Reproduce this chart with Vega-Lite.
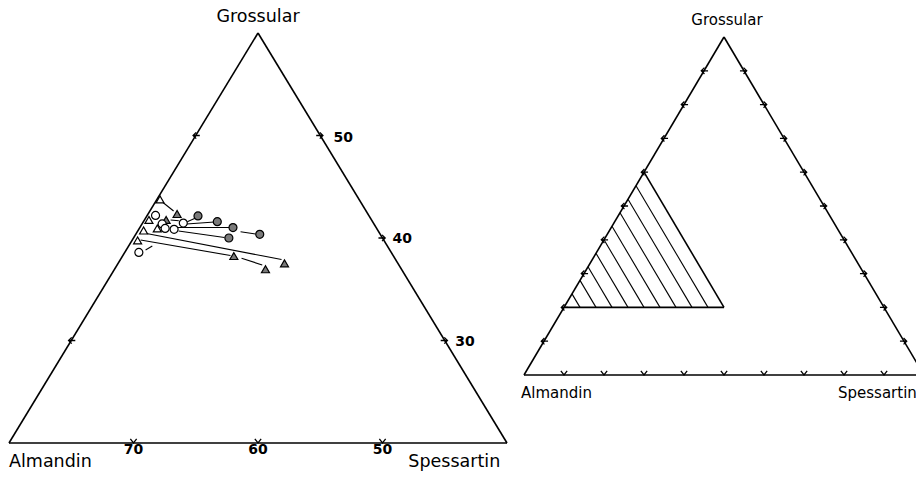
{
  "$schema": "https://vega.github.io/schema/vega-lite/v6.json",
  "autosize": {"type": "pad"},
  "padding": {"left": 8, "top": 8, "right": 0, "bottom": 0},
  "background": "white",
  "bounds": "flush",
  "spacing": 17,
  "config": {"view": {"stroke": null}, "font": "DejaVu Sans"},
  "datasets": {
    "L_frame": [
      {"x": 0, "y": 20, "x2": 40, "y2": 20},
      {"x": 0, "y": 20, "x2": 20, "y2": 60},
      {"x": 20, "y": 60, "x2": 40, "y2": 20}
    ],
    "L_ties": [
      {"x": 12.22, "y": 43.61, "x2": 13.22, "y2": 42.63},
      {"x": 12.98, "y": 41.76, "x2": 13.64, "y2": 41.69},
      {"x": 14.32, "y": 41.59, "x2": 15.12, "y2": 42.02},
      {"x": 14.26, "y": 41.37, "x2": 16.51, "y2": 41.56},
      {"x": 13.54, "y": 41.02, "x2": 17.71, "y2": 41.02},
      {"x": 13.62, "y": 40.68, "x2": 17.31, "y2": 40.05},
      {"x": 18.6, "y": 40.61, "x2": 19.8, "y2": 40.39},
      {"x": 11.05, "y": 40.44, "x2": 21.89, "y2": 37.9},
      {"x": 10.57, "y": 39.8, "x2": 17.79, "y2": 38.29},
      {"x": 18.68, "y": 38.02, "x2": 20.34, "y2": 37.37},
      {"x": 10.97, "y": 38.83, "x2": 11.51, "y2": 39.22}
    ],
    "L_pts": [
      {"x": 12.13, "y": 43.76, "form": "triangle", "zone": "core"},
      {"x": 13.5, "y": 42.34, "form": "triangle", "zone": "rim"},
      {"x": 11.77, "y": 42.2, "form": "circle", "zone": "core"},
      {"x": 11.24, "y": 41.76, "form": "triangle", "zone": "core"},
      {"x": 12.62, "y": 41.76, "form": "triangle", "zone": "rim"},
      {"x": 12.3, "y": 41.37, "form": "circle", "zone": "core"},
      {"x": 14.0, "y": 41.46, "form": "circle", "zone": "core"},
      {"x": 15.18, "y": 42.15, "form": "circle", "zone": "rim"},
      {"x": 16.73, "y": 41.59, "form": "circle", "zone": "rim"},
      {"x": 17.99, "y": 41.02, "form": "circle", "zone": "rim"},
      {"x": 20.14, "y": 40.36, "form": "circle", "zone": "rim"},
      {"x": 17.66, "y": 40.0, "form": "circle", "zone": "rim"},
      {"x": 11.91, "y": 40.93, "form": "triangle", "zone": "core"},
      {"x": 12.54, "y": 40.93, "form": "circle", "zone": "core"},
      {"x": 13.26, "y": 40.85, "form": "circle", "zone": "core"},
      {"x": 10.81, "y": 40.73, "form": "triangle", "zone": "core"},
      {"x": 10.33, "y": 39.76, "form": "triangle", "zone": "core"},
      {"x": 10.43, "y": 38.59, "form": "circle", "zone": "core"},
      {"x": 18.06, "y": 38.24, "form": "triangle", "zone": "rim"},
      {"x": 22.13, "y": 37.53, "form": "triangle", "zone": "rim"},
      {"x": 20.6, "y": 36.95, "form": "triangle", "zone": "rim"}
    ],
    "L_ticks": [
      {"x": 10, "y": 20, "side": "bottom"},
      {"x": 20, "y": 20, "side": "bottom"},
      {"x": 30, "y": 20, "side": "bottom"},
      {"x": 5, "y": 30, "side": "left"},
      {"x": 15, "y": 50, "side": "left"},
      {"x": 35, "y": 30, "side": "right"},
      {"x": 30, "y": 40, "side": "right"},
      {"x": 25, "y": 50, "side": "right"}
    ],
    "L_name_top": [{"x": 20, "y": 61.56, "text": "Grossular"}],
    "L_name_left": [{"x": 0, "y": 18.15, "text": "Almandin"}],
    "L_name_right": [{"x": 39.46, "y": 18.15, "text": "Spessartin"}],
    "L_num_base": [
      {"x": 10, "y": 19.3, "text": "70"},
      {"x": 20, "y": 19.3, "text": "60"},
      {"x": 30, "y": 19.3, "text": "50"}
    ],
    "L_num_side": [
      {"x": 26.06, "y": 49.76, "text": "50"},
      {"x": 30.8, "y": 39.9, "text": "40"},
      {"x": 35.85, "y": 29.85, "text": "30"}
    ],
    "R_frame": [
      {"x": 0, "y": 0, "x2": 100, "y2": 0},
      {"x": 0, "y": 0, "x2": 50, "y2": 100},
      {"x": 50, "y": 100, "x2": 100, "y2": 0},
      {"x": 10, "y": 20, "x2": 50, "y2": 20},
      {"x": 30, "y": 60, "x2": 50, "y2": 20}
    ],
    "R_hatch": [
      {"x": 46, "y": 20, "x2": 28, "y2": 56},
      {"x": 42, "y": 20, "x2": 26, "y2": 52},
      {"x": 38, "y": 20, "x2": 24, "y2": 48},
      {"x": 34, "y": 20, "x2": 22, "y2": 44},
      {"x": 30, "y": 20, "x2": 20, "y2": 40},
      {"x": 26, "y": 20, "x2": 18, "y2": 36},
      {"x": 22, "y": 20, "x2": 16, "y2": 32},
      {"x": 18, "y": 20, "x2": 14, "y2": 28},
      {"x": 14, "y": 20, "x2": 12, "y2": 24}
    ],
    "R_ticks": [
      {"x": 10, "y": 0, "side": "bottom"}, {"x": 20, "y": 0, "side": "bottom"},
      {"x": 30, "y": 0, "side": "bottom"}, {"x": 40, "y": 0, "side": "bottom"},
      {"x": 50, "y": 0, "side": "bottom"}, {"x": 60, "y": 0, "side": "bottom"},
      {"x": 70, "y": 0, "side": "bottom"}, {"x": 80, "y": 0, "side": "bottom"},
      {"x": 90, "y": 0, "side": "bottom"},
      {"x": 5, "y": 10, "side": "left"}, {"x": 10, "y": 20, "side": "left"},
      {"x": 15, "y": 30, "side": "left"}, {"x": 20, "y": 40, "side": "left"},
      {"x": 25, "y": 50, "side": "left"}, {"x": 30, "y": 60, "side": "left"},
      {"x": 35, "y": 70, "side": "left"}, {"x": 40, "y": 80, "side": "left"},
      {"x": 45, "y": 90, "side": "left"},
      {"x": 95, "y": 10, "side": "right"}, {"x": 90, "y": 20, "side": "right"},
      {"x": 85, "y": 30, "side": "right"}, {"x": 80, "y": 40, "side": "right"},
      {"x": 75, "y": 50, "side": "right"}, {"x": 70, "y": 60, "side": "right"},
      {"x": 65, "y": 70, "side": "right"}, {"x": 60, "y": 80, "side": "right"},
      {"x": 55, "y": 90, "side": "right"}
    ],
    "R_name_top": [{"x": 50.75, "y": 105, "text": "Grossular"}],
    "R_name_base": [
      {"x": -0.75, "y": -5.33, "text": "Almandin"},
      {"x": 78.5, "y": -5.33, "text": "Spessartin"}
    ]
  },
  "hconcat": [
    {
      "width": 498,
      "height": 410,
      "resolve": {"scale": {"shape": "independent", "fill": "independent"}},
      "layer": [
        {
          "data": {"name": "L_frame"},
          "mark": {"type": "rule", "color": "black", "strokeWidth": 1.6},
          "encoding": {
            "x": {"field": "x", "type": "quantitative", "scale": {"domain": [0, 40], "nice": false, "zero": false}, "axis": null},
            "y": {"field": "y", "type": "quantitative", "scale": {"domain": [20, 60], "nice": false, "zero": false}, "axis": null},
            "x2": {"field": "x2"},
            "y2": {"field": "y2"}
          }
        },
        {
          "data": {"name": "L_ties"},
          "mark": {"type": "rule", "color": "black", "strokeWidth": 1.1},
          "encoding": {
            "x": {"field": "x", "type": "quantitative", "scale": {"domain": [0, 40], "nice": false, "zero": false}, "axis": null},
            "y": {"field": "y", "type": "quantitative", "scale": {"domain": [20, 60], "nice": false, "zero": false}, "axis": null},
            "x2": {"field": "x2"},
            "y2": {"field": "y2"}
          }
        },
        {
          "data": {"name": "L_ticks"},
          "mark": {"type": "point", "filled": false, "stroke": "black", "strokeWidth": 1.3, "size": 81, "opacity": 1},
          "encoding": {
            "x": {"field": "x", "type": "quantitative", "scale": {"domain": [0, 40], "nice": false, "zero": false}, "axis": null},
            "y": {"field": "y", "type": "quantitative", "scale": {"domain": [20, 60], "nice": false, "zero": false}, "axis": null},
            "shape": {"field": "side", "type": "nominal", "legend": null,
              "scale": {"domain": ["bottom", "left", "right"],
                "range": ["M-0.7,-0.9L0,0L0.7,-0.9", "M0.9,0L-0.6,0M0.1,-0.7L-0.6,0L0.1,0.7", "M-0.9,0L0.6,0M-0.1,-0.7L0.6,0L-0.1,0.7"]}}
          }
        },
        {
          "data": {"name": "L_pts"},
          "mark": {"type": "point", "stroke": "black", "strokeWidth": 1.2, "size": 64, "opacity": 1, "filled": true},
          "encoding": {
            "x": {"field": "x", "type": "quantitative", "scale": {"domain": [0, 40], "nice": false, "zero": false}, "axis": null},
            "y": {"field": "y", "type": "quantitative", "scale": {"domain": [20, 60], "nice": false, "zero": false}, "axis": null},
            "shape": {"field": "form", "type": "nominal", "legend": null,
              "scale": {"domain": ["triangle", "circle"], "range": ["triangle-up", "circle"]}},
            "fill": {"field": "zone", "type": "nominal", "legend": null,
              "scale": {"domain": ["core", "rim"], "range": ["white", "#7a7a7a"]}}
          }
        },
        {
          "data": {"name": "L_name_top"},
          "mark": {"type": "text", "fontSize": 17.5, "color": "black", "baseline": "middle", "align": "center"},
          "encoding": {
            "x": {"field": "x", "type": "quantitative", "scale": {"domain": [0, 40], "nice": false, "zero": false}, "axis": null},
            "y": {"field": "y", "type": "quantitative", "scale": {"domain": [20, 60], "nice": false, "zero": false}, "axis": null},
            "text": {"field": "text"}
          }
        },
        {
          "data": {"name": "L_name_left"},
          "mark": {"type": "text", "fontSize": 17.5, "color": "black", "baseline": "middle", "align": "left"},
          "encoding": {
            "x": {"field": "x", "type": "quantitative", "scale": {"domain": [0, 40], "nice": false, "zero": false}, "axis": null},
            "y": {"field": "y", "type": "quantitative", "scale": {"domain": [20, 60], "nice": false, "zero": false}, "axis": null},
            "text": {"field": "text"}
          }
        },
        {
          "data": {"name": "L_name_right"},
          "mark": {"type": "text", "fontSize": 17.5, "color": "black", "baseline": "middle", "align": "right"},
          "encoding": {
            "x": {"field": "x", "type": "quantitative", "scale": {"domain": [0, 40], "nice": false, "zero": false}, "axis": null},
            "y": {"field": "y", "type": "quantitative", "scale": {"domain": [20, 60], "nice": false, "zero": false}, "axis": null},
            "text": {"field": "text"}
          }
        },
        {
          "data": {"name": "L_num_base"},
          "mark": {"type": "text", "fontSize": 14, "fontWeight": "bold", "color": "black", "baseline": "middle", "align": "center"},
          "encoding": {
            "x": {"field": "x", "type": "quantitative", "scale": {"domain": [0, 40], "nice": false, "zero": false}, "axis": null},
            "y": {"field": "y", "type": "quantitative", "scale": {"domain": [20, 60], "nice": false, "zero": false}, "axis": null},
            "text": {"field": "text"}
          }
        },
        {
          "data": {"name": "L_num_side"},
          "mark": {"type": "text", "fontSize": 14, "fontWeight": "bold", "color": "black", "baseline": "middle", "align": "left"},
          "encoding": {
            "x": {"field": "x", "type": "quantitative", "scale": {"domain": [0, 40], "nice": false, "zero": false}, "axis": null},
            "y": {"field": "y", "type": "quantitative", "scale": {"domain": [20, 60], "nice": false, "zero": false}, "axis": null},
            "text": {"field": "text"}
          }
        }
      ]
    },
    {
      "width": 400,
      "height": 342,
      "layer": [
        {
          "data": {"name": "R_frame"},
          "mark": {"type": "rule", "color": "black", "strokeWidth": 1.6},
          "encoding": {
            "x": {"field": "x", "type": "quantitative", "scale": {"domain": [0, 100], "nice": false, "zero": false}, "axis": null},
            "y": {"field": "y", "type": "quantitative", "scale": {"domain": [0, 101.18], "nice": false, "zero": false}, "axis": null},
            "x2": {"field": "x2"},
            "y2": {"field": "y2"}
          }
        },
        {
          "data": {"name": "R_hatch"},
          "mark": {"type": "rule", "color": "black", "strokeWidth": 1.1},
          "encoding": {
            "x": {"field": "x", "type": "quantitative", "scale": {"domain": [0, 100], "nice": false, "zero": false}, "axis": null},
            "y": {"field": "y", "type": "quantitative", "scale": {"domain": [0, 101.18], "nice": false, "zero": false}, "axis": null},
            "x2": {"field": "x2"},
            "y2": {"field": "y2"}
          }
        },
        {
          "data": {"name": "R_ticks"},
          "mark": {"type": "point", "filled": false, "stroke": "black", "strokeWidth": 1.3, "size": 81, "opacity": 1},
          "encoding": {
            "x": {"field": "x", "type": "quantitative", "scale": {"domain": [0, 100], "nice": false, "zero": false}, "axis": null},
            "y": {"field": "y", "type": "quantitative", "scale": {"domain": [0, 101.18], "nice": false, "zero": false}, "axis": null},
            "shape": {"field": "side", "type": "nominal", "legend": null,
              "scale": {"domain": ["bottom", "left", "right"],
                "range": ["M-0.7,-0.9L0,0L0.7,-0.9", "M0.9,0L-0.6,0M0.1,-0.7L-0.6,0L0.1,0.7", "M-0.9,0L0.6,0M-0.1,-0.7L0.6,0L-0.1,0.7"]}}
          }
        },
        {
          "data": {"name": "R_name_top"},
          "mark": {"type": "text", "fontSize": 15, "color": "black", "baseline": "middle", "align": "center"},
          "encoding": {
            "x": {"field": "x", "type": "quantitative", "scale": {"domain": [0, 100], "nice": false, "zero": false}, "axis": null},
            "y": {"field": "y", "type": "quantitative", "scale": {"domain": [0, 101.18], "nice": false, "zero": false}, "axis": null},
            "text": {"field": "text"}
          }
        },
        {
          "data": {"name": "R_name_base"},
          "mark": {"type": "text", "fontSize": 15, "color": "black", "baseline": "middle", "align": "left"},
          "encoding": {
            "x": {"field": "x", "type": "quantitative", "scale": {"domain": [0, 100], "nice": false, "zero": false}, "axis": null},
            "y": {"field": "y", "type": "quantitative", "scale": {"domain": [0, 101.18], "nice": false, "zero": false}, "axis": null},
            "text": {"field": "text"}
          }
        }
      ]
    }
  ]
}
